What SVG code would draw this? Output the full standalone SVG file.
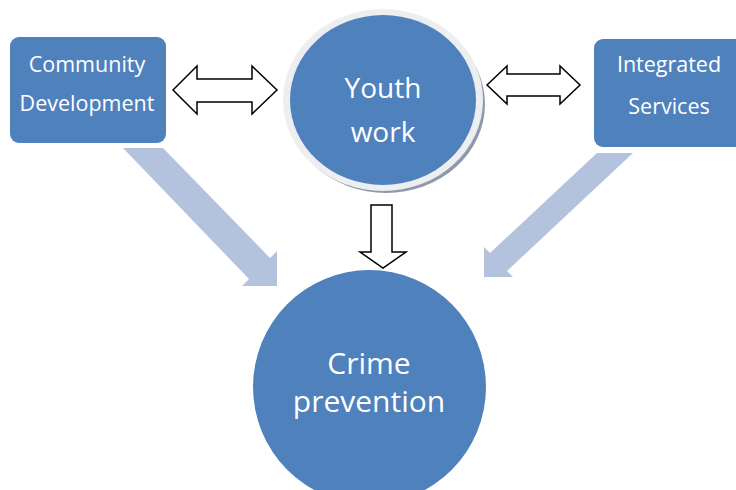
<svg xmlns="http://www.w3.org/2000/svg" width="736" height="490" viewBox="0 0 736 490">
<style>
.node{fill:#4F81BD}
.lbl{fill:#FFFFFF;font-family:"Open Sans","Noto Sans",sans-serif;text-anchor:middle;dominant-baseline:central}
.box{font-size:21.5px}
.big{fill:#B3C3DD;stroke:none}
.dbl{fill:#FFFFFF;stroke:#000000;stroke-width:1.5;stroke-linejoin:miter}
</style>
<rect width="736" height="490" fill="#FFFFFF"/>
<g id="connectors">
<polygon class="big" points="123,148 163,148 270,258 277,251 277,286 242,286 249,279"/>
<polygon class="big" points="597,153 633,153 507,271 513,277 484,277 484,247 490,253"/>
<polygon class="dbl" points="173,90 197,66 197,79 252,79 252,66 277,90 252,114 252,102 197,102 197,114"/>
<polygon class="dbl" points="487,85 507,66 507,74 560,74 560,66 580,85 560,104 560,96 507,96 507,104"/>
<polygon class="dbl" points="371,205 392,205 392,252 406,252 383,268 360,252 371,252"/>
</g>
<g id="community">
<rect class="node" x="10" y="37" width="156" height="106" rx="9"/>
<text class="lbl box" x="87" y="63">Community</text>
<text class="lbl box" x="87" y="102">Development</text>
</g>
<g id="integrated">
<rect class="node" x="594" y="39" width="160" height="108" rx="9"/>
<text class="lbl box" x="669" y="63">Integrated</text>
<text class="lbl box" x="669" y="105">Services</text>
</g>
<g id="youth">
<ellipse cx="386" cy="104" rx="99" ry="89" fill="#8E9AAB"/>
<ellipse cx="383" cy="100" rx="100" ry="91" fill="#EDEEF0"/>
<ellipse class="node" cx="383" cy="100" rx="93" ry="85"/>
<text class="lbl" x="383" y="87" font-size="28">Youth</text>
<text class="lbl" x="383" y="131" font-size="28">work</text>
</g>
<g id="crime">
<ellipse class="node" cx="369.5" cy="387" rx="116.5" ry="117"/>
<text class="lbl" x="369" y="362" font-size="30">Crime</text>
<text class="lbl" x="369" y="400" font-size="30">prevention</text>
</g>
</svg>
